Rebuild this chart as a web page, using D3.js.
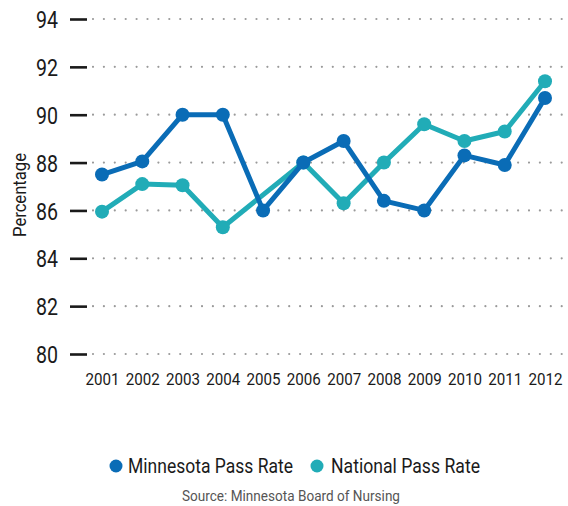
<!DOCTYPE html>
<html>
<head>
<meta charset="utf-8">
<script src="https://cdn.jsdelivr.net/npm/d3@7"></script>
<style>
  html, body { margin: 0; padding: 0; background: #fff; }
  svg { display: block; }
</style>
</head>
<body>
<svg id="chart" width="568" height="506"></svg>
<script>
// Pass rates by year (percent)
const years = [2001, 2002, 2003, 2004, 2005, 2006, 2007, 2008, 2009, 2010, 2011, 2012];
const minnesotaRate = [87.5, 88.05, 90.0, 90.0, 86.0, 88.0, 88.9, 86.4, 86.0, 88.3, 87.9, 90.7];
const nationalRate  = [85.95, 87.1, 87.05, 85.3, null, 88.0, 86.3, 88.0, 89.6, 88.9, 89.3, 91.4];
const yTicks = [80, 82, 84, 86, 88, 90, 92, 94];
const seriesNames = ["Minnesota Pass Rate", "National Pass Rate"];
const seriesColors = ["#0a6cb6", "#21acb7"];

const svg = d3.select("#chart");
const font = 'Roboto, "Noto Sans", sans-serif';

// Condense a text element to a given width
function fit(sel, w) {
  sel.attr("textLength", w).attr("lengthAdjust", "spacingAndGlyphs");
}

const x = d3.scaleLinear().domain([2001, 2012]).range([102, 545]);
const y = d3.scaleLinear().domain([80, 94]).range([354, 19]);

// Dotted horizontal gridlines
const grid = svg.append("g");
yTicks.forEach(t => {
  grid.append("line")
    .attr("x1", 93).attr("x2", 566)
    .attr("y1", y(t)).attr("y2", y(t))
    .attr("stroke", "#9a9a9a")
    .attr("stroke-width", 2.2)
    .attr("stroke-linecap", "round")
    .attr("stroke-dasharray", "0 10.9");
});

// Y axis: tick dashes and labels
const yAxis = d3.axisLeft(y).tickValues(yTicks).tickSize(17).tickPadding(12).tickFormat(d3.format("d"));
const yg = svg.append("g").attr("transform", "translate(87,0)").call(yAxis);
yg.select(".domain").remove();
yg.selectAll(".tick line").attr("stroke", "#1a1a1a").attr("stroke-width", 2.6);
yg.selectAll(".tick text")
  .attr("fill", "#1a1a1a")
  .attr("dy", "0.36em")
  .style("font-family", font)
  .style("font-size", "24px")
  .call(fit, 22);

// X axis labels
const xAxis = d3.axisBottom(x).tickValues(years).tickSize(0).tickPadding(0).tickFormat(d3.format("d"));
const xg = svg.append("g").attr("transform", "translate(0,373)").call(xAxis);
xg.select(".domain").remove();
xg.selectAll(".tick text")
  .attr("fill", "#1a1a1a")
  .style("font-family", font)
  .style("font-size", "17px")
  .call(fit, 34);

// Y axis title
svg.append("text")
  .attr("transform", "translate(26,195) rotate(-90)")
  .attr("text-anchor", "middle")
  .style("font-family", font)
  .style("font-size", "18px")
  .attr("fill", "#1a1a1a")
  .text("Percentage")
  .call(fit, 84);

// Series lines and markers
const seriesData = [minnesotaRate, nationalRate];
const line = d3.line()
  .x(d => x(d.year))
  .y(d => y(d.value));

[1, 0].forEach(i => {
  const pts = years.map((yr, j) => ({ year: yr, value: seriesData[i][j] }))
    .filter(d => d.value !== null);
  const g = svg.append("g");
  g.append("path")
    .datum(pts)
    .attr("d", line)
    .attr("fill", "none")
    .attr("stroke", seriesColors[i])
    .attr("stroke-width", 5)
    .attr("stroke-linejoin", "round");
  g.selectAll("circle")
    .data(pts)
    .join("circle")
    .attr("cx", d => x(d.year))
    .attr("cy", d => y(d.value))
    .attr("r", 7)
    .attr("fill", seriesColors[i]);
});

// Legend
const legendItems = [
  { name: seriesNames[0], color: seriesColors[0], cx: 116, tx: 128, w: 165 },
  { name: seriesNames[1], color: seriesColors[1], cx: 317, tx: 331, w: 149 }
];
const lg = svg.append("g");
legendItems.forEach(it => {
  lg.append("circle").attr("cx", it.cx).attr("cy", 466).attr("r", 6.5).attr("fill", it.color);
  lg.append("text")
    .attr("x", it.tx).attr("y", 473)
    .style("font-family", font)
    .style("font-size", "20px")
    .attr("fill", "#1a1a1a")
    .text(it.name)
    .call(fit, it.w);
});

// Source note
svg.append("text")
  .attr("x", 291).attr("y", 501)
  .attr("text-anchor", "middle")
  .style("font-family", font)
  .style("font-size", "15px")
  .attr("fill", "#555")
  .text("Source: Minnesota Board of Nursing")
  .call(fit, 218);
</script>
</body>
</html>
